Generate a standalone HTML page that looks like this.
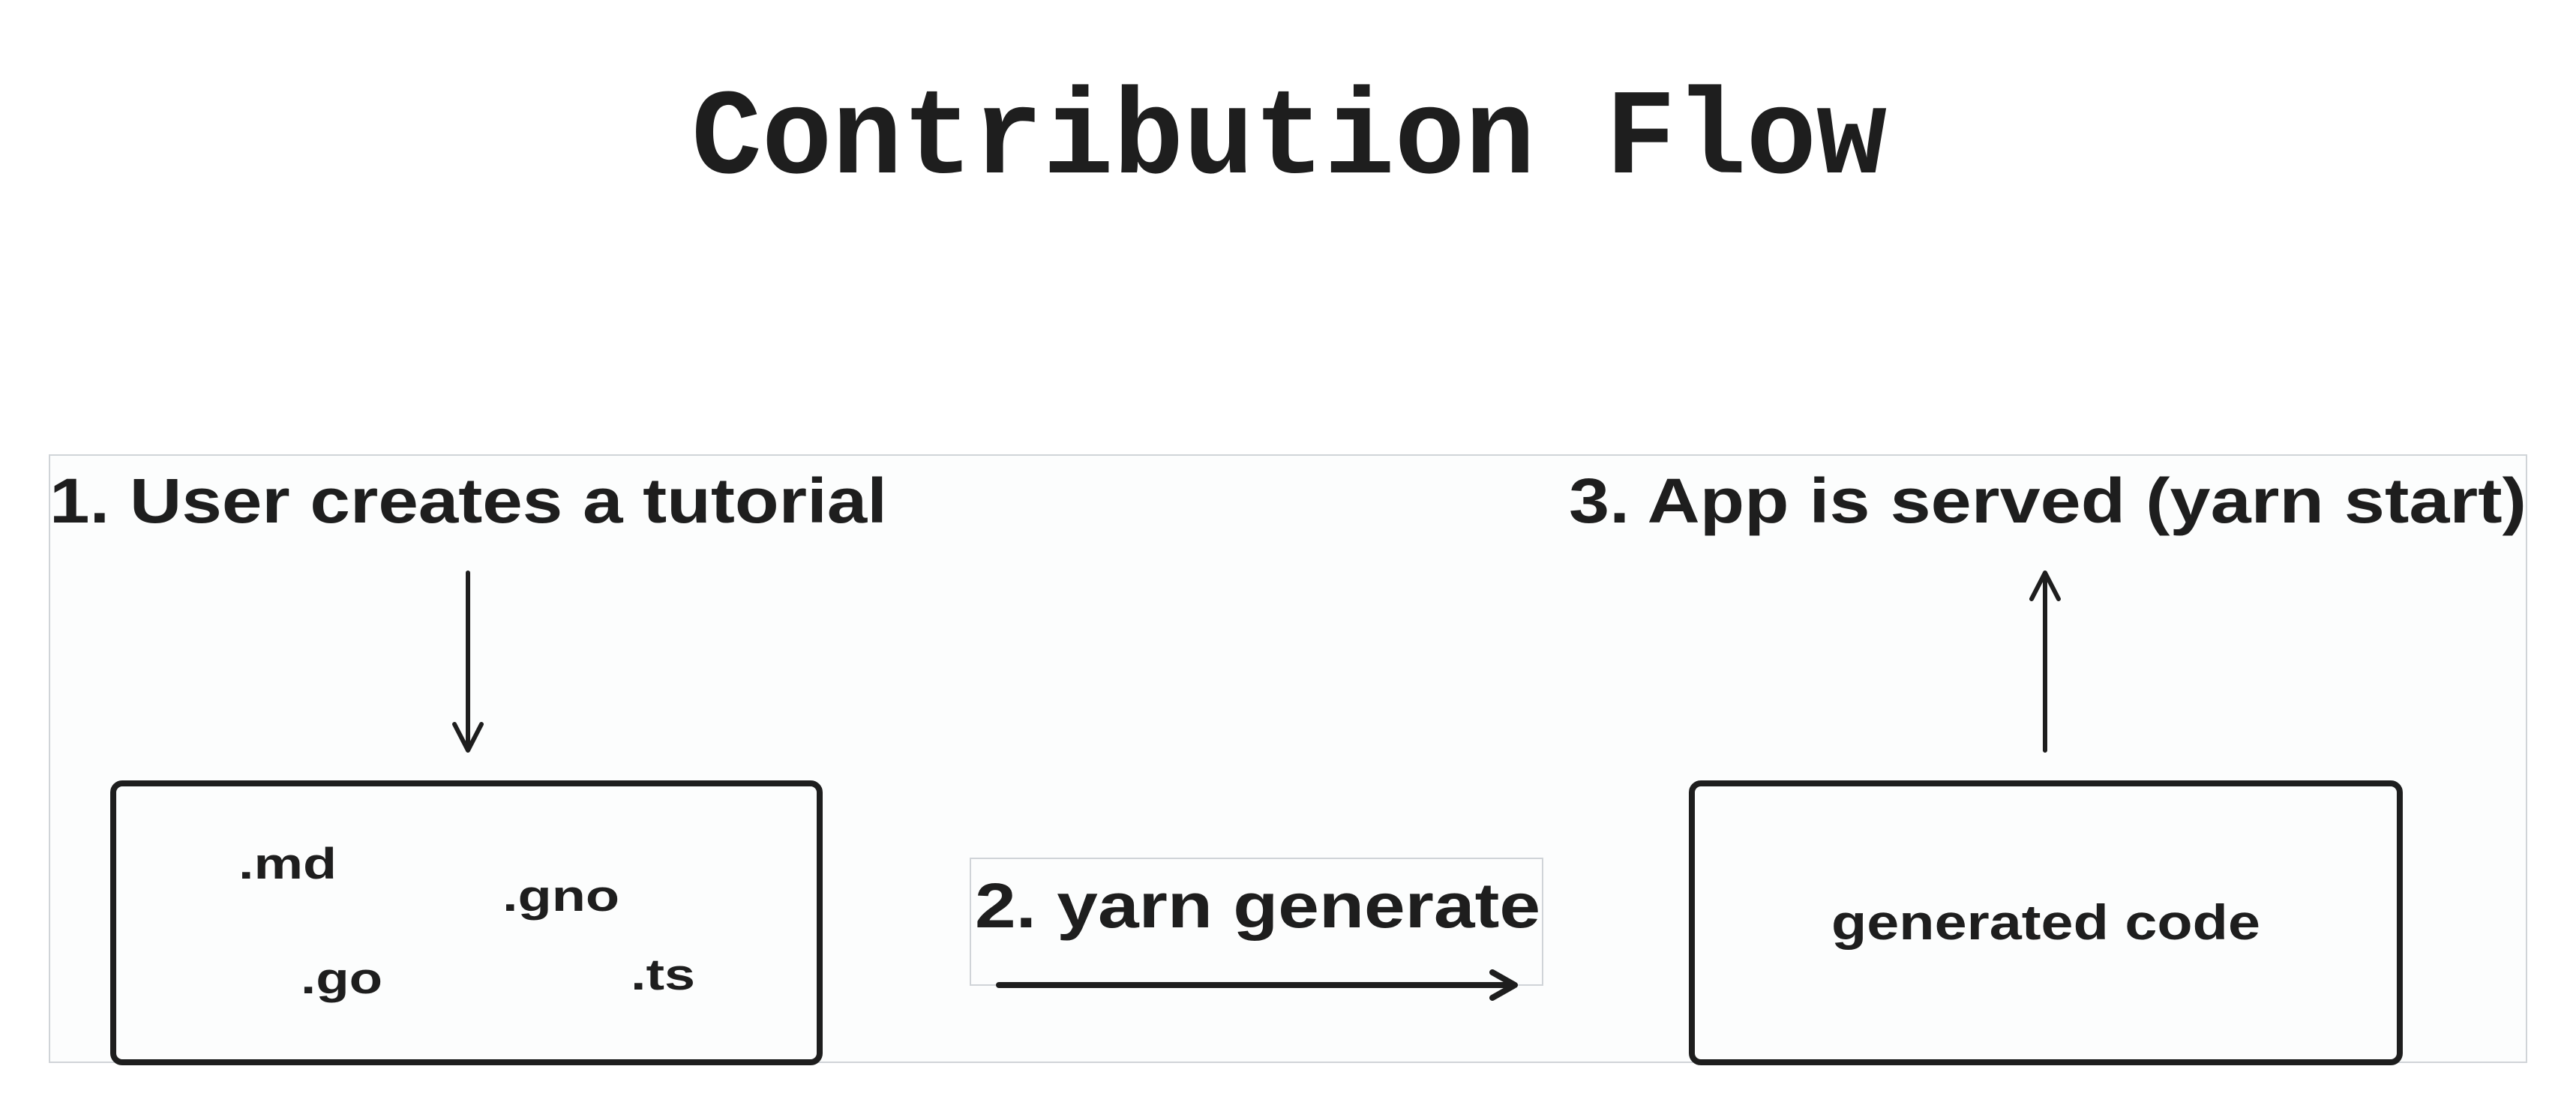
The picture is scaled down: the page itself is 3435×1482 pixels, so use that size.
<!DOCTYPE html>
<html><head><meta charset="utf-8"><style>html,body{margin:0;padding:0;background:#fff}svg{display:block}</style></head>
<body>
<svg width="3435" height="1482" viewBox="0 0 3435 1482" xmlns="http://www.w3.org/2000/svg">
<rect width="3435" height="1482" fill="#fff"/>
<g transform="translate(0,230) scale(1,1.22)">
<text x="922" y="0" font-family="Liberation Mono, monospace" font-weight="bold" font-size="133" fill="#1e1e1e" textLength="1594" lengthAdjust="spacingAndGlyphs">Contribution Flow</text>
</g>
<rect x="66" y="607" width="3303" height="810" fill="#fcfdfd" stroke="#d0d4d8" stroke-width="2"/>
<g font-family="Liberation Sans, sans-serif" font-weight="bold" fill="#1e1e1e">
<text x="66" y="697" font-size="84" textLength="1117" lengthAdjust="spacingAndGlyphs">1. User creates a tutorial</text>
<text x="2092" y="697" font-size="84" textLength="1277" lengthAdjust="spacingAndGlyphs">3. App is served (yarn start)</text>
<rect x="1294" y="1145" width="763" height="169" fill="#fcfdfd" stroke="#d0d4d8" stroke-width="2"/>
<text x="1300" y="1237" font-size="84" textLength="754" lengthAdjust="spacingAndGlyphs">2. yarn generate</text>
<text x="318" y="1172" font-size="58" textLength="131" lengthAdjust="spacingAndGlyphs">.md</text>
<text x="670" y="1215" font-size="58" textLength="156" lengthAdjust="spacingAndGlyphs">.gno</text>
<text x="401" y="1325" font-size="58" textLength="109" lengthAdjust="spacingAndGlyphs">.go</text>
<text x="841" y="1320" font-size="58" textLength="86" lengthAdjust="spacingAndGlyphs">.ts</text>
<text x="2442" y="1253" font-size="66" textLength="572" lengthAdjust="spacingAndGlyphs">generated code</text>
</g>
<g fill="none" stroke="#1e1e1e" stroke-linecap="round" stroke-linejoin="round">
<rect x="151" y="1045" width="942" height="372" rx="12" stroke-width="8"/>
<rect x="2256" y="1045" width="944" height="372" rx="12" stroke-width="8"/>
<path d="M624 764 L624 1001 M606 966 L624 1001 L642 966" stroke-width="6"/>
<path d="M2727 1001 L2727 764 M2709 799 L2727 764 L2745 799" stroke-width="6"/>
<path d="M1332 1314 L2020 1314 M1990 1297 L2020 1314 L1990 1331" stroke-width="8"/>
</g>
</svg>
</body></html>
